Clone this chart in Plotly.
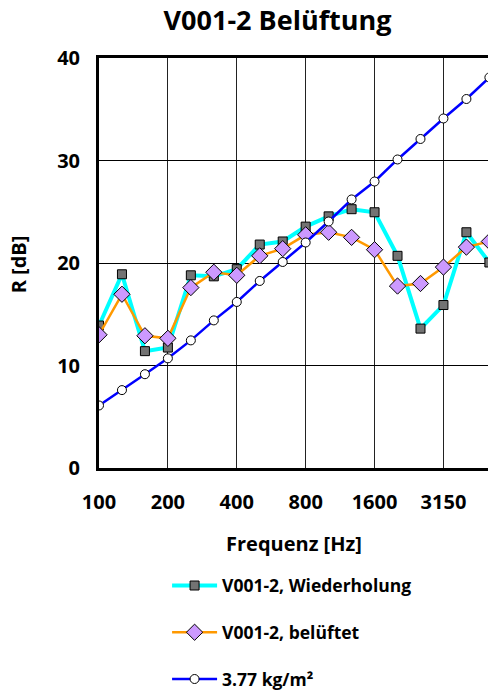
import plotly.graph_objects as go

freq_labels = ["100", "125", "160", "200", "250", "315", "400", "500", "630",
               "800", "1000", "1250", "1600", "2000", "2500", "3150", "4000", "5000"]
tick_labels = ["100", "200", "400", "800", "1600", "3150"]
wiederholung = [13.9, 18.9, 11.4, 11.75, 18.8, 18.7, 19.4, 21.8, 22.1,
                23.55, 24.55, 25.25, 24.95, 20.7, 13.6, 15.9, 23.0, 20.05]
belueftet = [13.0, 16.95, 12.9, 12.65, 17.6, 19.1, 18.8, 20.7, 21.4,
             22.75, 23.0, 22.5, 21.3, 17.75, 18.0, 19.6, 21.55, 22.1]
masse = [6.1, 7.6, 9.15, 10.7, 12.45, 14.4, 16.2, 18.25, 20.1,
         22.0, 24.05, 26.2, 27.95, 30.1, 32.1, 34.1, 36.0, 38.1]

idx = list(range(len(freq_labels)))
tick_idx = [freq_labels.index(t) for t in tick_labels]

FONT = "Open Sans"

fig = go.Figure()
fig.add_trace(go.Scatter(
    x=idx, y=wiederholung, mode="lines+markers", name="V001-2, Wiederholung",
    legendgroup="a",
    line=dict(color="#00ffff", width=4),
    marker=dict(symbol="square", size=9, color="#737373", line=dict(color="black", width=1))))
fig.add_trace(go.Scatter(
    x=idx, y=belueftet, mode="lines+markers", name="V001-2, belüftet",
    legendgroup="b",
    line=dict(color="#ff9900", width=2.5),
    marker=dict(symbol="diamond", size=12.5, color="#cc99ff", line=dict(color="black", width=1))))
fig.add_trace(go.Scatter(
    x=idx, y=masse, mode="lines+markers", name="3.77 kg/m²",
    legendgroup="c",
    line=dict(color="#0000ff", width=2.5),
    marker=dict(symbol="circle", size=9, color="white", line=dict(color="black", width=1))))

fig.update_layout(
    width=488, height=691,
    margin=dict(l=99, r=0, t=58, b=223, pad=0, autoexpand=False),
    paper_bgcolor="white", plot_bgcolor="white",
    font=dict(family=FONT, color="black", size=16),
    title=dict(text="<b>V001-2 Belüftung</b>", x=0.459, xref="paper", xanchor="center",
               y=1 - 21 / 691, yref="container", yanchor="middle",
               font=dict(family=FONT, size=27, color="black")),
    xaxis=dict(range=[0, 16.94], tickmode="array", tickvals=tick_idx,
               ticktext=["<b>%s</b>" % t for t in tick_labels],
               showgrid=True, gridcolor="#222222", gridwidth=1,
               showline=True, linecolor="black", linewidth=3, mirror=True,
               ticks="", ticklabelstandoff=14, zeroline=False,
               tickfont=dict(size=20)),
    yaxis=dict(range=[0, 40], tickmode="array", tickvals=[0, 10, 20, 30, 40],
               ticktext=["<b>%d</b>" % v for v in [0, 10, 20, 30, 40]],
               showgrid=True, gridcolor="black", gridwidth=1,
               showline=True, linecolor="black", linewidth=3,
               ticks="", ticklabelstandoff=12, zeroline=False,
               tickfont=dict(size=20)),
    showlegend=True,
    legend=dict(x=0.175, y=-0.243, xanchor="left", yanchor="top",
                font=dict(size=17.5), tracegroupgap=21, itemwidth=45,
                bgcolor="rgba(0,0,0,0)"),
    annotations=[
        dict(text="<b>Frequenz [Hz]</b>", x=0.501, y=-0.183, xref="paper", yref="paper",
             xanchor="center", yanchor="middle", showarrow=False, font=dict(size=20)),
        dict(text="<b>R [dB]</b>", x=-0.208, y=0.497, xref="paper", yref="paper",
             xanchor="center", yanchor="middle", showarrow=False, textangle=-90,
             font=dict(size=20)),
    ],
)
fig.for_each_trace(lambda t: t.update(name="<b>%s</b>" % t.name))

fig.write_html("out.html")
